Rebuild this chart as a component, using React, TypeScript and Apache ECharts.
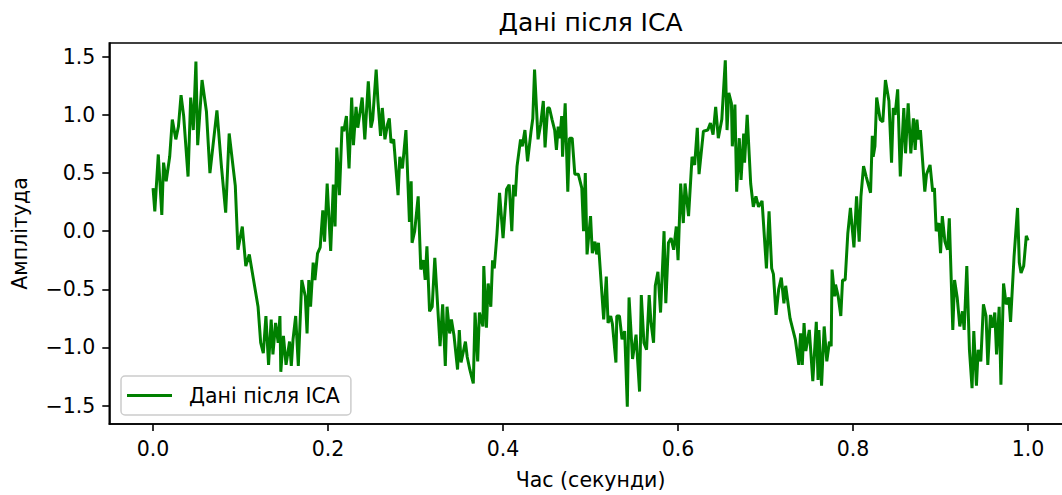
import React, { useEffect, useRef } from "react";
import * as echarts from "echarts";

const titleText = "Дані після ICA";
const seriesName = "Дані після ICA";
const xAxisLabel = "Час (секунди)";
const yAxisLabel = "Амплітуда";

const xTicks = [0, 0.2, 0.4, 0.6, 0.8, 1.0];
const yTicks = [-1.5, -1.0, -0.5, 0.0, 0.5, 1.0, 1.5];

const times = [
  0.000, 0.002, 0.006, 0.010, 0.012, 0.015, 0.019, 0.022, 0.026, 0.029,
  0.032, 0.035, 0.040, 0.043, 0.046, 0.049, 0.051, 0.056, 0.061, 0.065,
  0.073, 0.078, 0.083, 0.087, 0.094, 0.097, 0.102, 0.106, 0.110, 0.118,
  0.120, 0.123, 0.126, 0.129, 0.132, 0.135, 0.137, 0.140, 0.143, 0.145,
  0.146, 0.149, 0.152, 0.156, 0.158, 0.160, 0.163, 0.166, 0.170, 0.174,
  0.176, 0.178, 0.180, 0.183, 0.185, 0.188, 0.191, 0.194, 0.196, 0.199,
  0.203, 0.206, 0.208, 0.210, 0.213, 0.216, 0.218, 0.221, 0.224, 0.227,
  0.229, 0.232, 0.234, 0.239, 0.242, 0.246, 0.249, 0.251, 0.255, 0.257,
  0.260, 0.262, 0.265, 0.268, 0.270, 0.272, 0.275, 0.280, 0.282, 0.285,
  0.289, 0.293, 0.295, 0.296, 0.299, 0.303, 0.306, 0.309, 0.311, 0.313,
  0.316, 0.319, 0.322, 0.328, 0.331, 0.334, 0.336, 0.339, 0.341, 0.344,
  0.348, 0.350, 0.352, 0.357, 0.359, 0.362, 0.366, 0.368, 0.371, 0.373,
  0.377, 0.378, 0.381, 0.383, 0.386, 0.388, 0.390, 0.393, 0.396, 0.400,
  0.404, 0.407, 0.410, 0.412, 0.414, 0.416, 0.420, 0.422, 0.425, 0.428,
  0.432, 0.434, 0.436, 0.440, 0.443, 0.446, 0.448, 0.451, 0.453, 0.456,
  0.459, 0.461, 0.463, 0.465, 0.467, 0.468, 0.471, 0.474, 0.476, 0.479,
  0.482, 0.486, 0.490, 0.492, 0.494, 0.496, 0.500, 0.502, 0.505, 0.507,
  0.509, 0.515, 0.518, 0.520, 0.523, 0.525, 0.529, 0.530, 0.533, 0.536,
  0.539, 0.542, 0.544, 0.548, 0.552, 0.556, 0.558, 0.561, 0.564, 0.567,
  0.569, 0.572, 0.574, 0.577, 0.580, 0.584, 0.586, 0.589, 0.592, 0.595,
  0.598, 0.600, 0.603, 0.606, 0.608, 0.612, 0.616, 0.619, 0.622, 0.624,
  0.629, 0.634, 0.637, 0.640, 0.643, 0.646, 0.650, 0.654, 0.656, 0.658,
  0.661, 0.662, 0.665, 0.667, 0.670, 0.672, 0.675, 0.676, 0.679, 0.683,
  0.686, 0.689, 0.692, 0.696, 0.701, 0.704, 0.707, 0.709, 0.712, 0.715,
  0.718, 0.721, 0.723, 0.728, 0.734, 0.738, 0.740, 0.742, 0.744, 0.746,
  0.750, 0.754, 0.758, 0.760, 0.761, 0.764, 0.767, 0.770, 0.773, 0.775,
  0.776, 0.779, 0.780, 0.783, 0.786, 0.788, 0.791, 0.794, 0.797, 0.801,
  0.804, 0.807, 0.809, 0.812, 0.815, 0.820, 0.822, 0.823, 0.825, 0.827,
  0.831, 0.834, 0.837, 0.841, 0.844, 0.846, 0.848, 0.851, 0.854, 0.858,
  0.860, 0.863, 0.866, 0.869, 0.871, 0.873, 0.875, 0.877, 0.882, 0.884,
  0.888, 0.891, 0.893, 0.895, 0.898, 0.900, 0.902, 0.905, 0.908, 0.910,
  0.914, 0.916, 0.919, 0.922, 0.925, 0.927, 0.930, 0.933, 0.936, 0.938,
  0.941, 0.943, 0.946, 0.949, 0.952, 0.954, 0.957, 0.959, 0.962, 0.964,
  0.967, 0.969, 0.972, 0.975, 0.978, 0.980, 0.984, 0.988, 0.990, 0.992,
  0.995, 0.998, 1.000,
];

const amplitudes = [
  0.37, 0.17, 0.66, 0.14, 0.59, 0.43, 0.64, 0.96, 0.79, 0.90,
  1.17, 0.99, 0.47, 1.15, 0.87, 1.46, 0.74, 1.30, 1.03, 0.50,
  1.04, 0.57, 0.16, 0.84, 0.39, -0.16, 0.04, -0.30, -0.20, -0.56,
  -0.65, -0.96, -1.05, -0.73, -1.15, -0.76, -1.06, -0.79, -0.96, -0.73,
  -1.21, -0.90, -1.15, -0.95, -1.16, -0.93, -0.73, -1.16, -0.42, -0.56,
  -0.88, -0.42, -0.65, -0.27, -0.42, -0.19, -0.14, 0.18, -0.09, 0.41,
  -0.17, 0.40, 0.04, 0.72, 0.31, 0.90, 0.86, 0.99, 0.54, 1.15,
  0.74, 1.07, 0.89, 1.15, 0.79, 1.29, 0.89, 0.96, 1.39, 1.12,
  0.82, 1.06, 0.79, 0.92, 0.97, 0.76, 0.79, 0.31, 0.64, 0.54,
  0.87, 0.08, 0.43, -0.10, 0.00, 0.30, -0.33, -0.25, -0.42, -0.13,
  -0.69, -0.65, -0.23, -0.99, -0.63, -1.16, -0.65, -0.88, -0.76, -0.90,
  -1.19, -0.85, -1.13, -0.95, -1.08, -1.19, -1.31, -0.70, -1.12, -0.70,
  -0.82, -0.30, -0.83, -0.45, -0.65, -0.25, -0.32, -0.03, 0.33, -0.06,
  0.36, 0.40, 0.00, 0.40, 0.30, 0.56, 0.79, 0.73, 0.87, 0.60,
  0.86, 0.97, 1.39, 0.79, 0.92, 1.12, 0.72, 1.06, 1.06, 0.96,
  0.87, 0.70, 0.90, 0.80, 0.99, 0.64, 1.10, 0.34, 0.80, 0.80,
  0.49, 0.49, 0.37, 0.00, 0.50, -0.20, 0.13, -0.19, -0.09, -0.20,
  -0.10, -0.76, -0.39, -0.79, -0.73, -0.80, -1.13, -0.73, -0.73, -0.93,
  -0.86, -1.51, -0.57, -1.10, -0.89, -1.38, -0.55, -0.96, -1.02, -0.55,
  -0.78, -0.96, -0.47, -0.35, -0.70, 0.00, -0.62, -0.10, -0.06, -0.16,
  0.04, -0.25, 0.41, 0.07, 0.41, 0.13, 0.64, 0.57, 0.89, 0.49,
  0.86, 0.87, 0.93, 0.83, 1.07, 0.80, 0.96, 1.47, 0.87, 1.19,
  1.10, 0.73, 1.09, 0.34, 0.80, 0.44, 0.84, 0.59, 1.00, 0.41,
  0.21, 0.30, 0.21, 0.26, -0.32, 0.17, -0.32, -0.37, -0.72, -0.50,
  -0.40, -0.62, -0.47, -0.75, -0.93, -1.15, -0.88, -1.15, -0.79, -1.03,
  -0.85, -1.29, -0.78, -1.28, -0.85, -1.33, -0.82, -1.12, -0.95, -0.99,
  -0.33, -0.56, -0.46, -0.56, -0.73, -0.42, -0.42, -0.02, 0.20, -0.14,
  0.30, -0.09, 0.30, 0.56, 0.47, 0.33, 0.82, 0.64, 0.73, 1.15,
  0.96, 0.94, 1.30, 1.12, 0.59, 1.06, 1.00, 1.22, 0.47, 1.06,
  0.67, 1.10, 0.67, 0.97, 0.70, 0.96, 0.79, 0.87, 0.34, 0.49,
  0.57, 0.34, 0.37, 0.00, 0.07, -0.19, 0.13, -0.09, -0.16, 0.11,
  -0.85, -0.42, -0.57, -0.82, -0.69, -0.85, -0.30, -1.02, -1.35, -0.86,
  -1.33, -1.02, -1.12, -0.63, -0.73, -1.15, -0.72, -0.83, -0.70, -1.06,
  -0.65, -1.32, -0.45, -0.63, -0.57, -0.78, -0.22, 0.20, -0.27, -0.36,
  -0.30, -0.04, -0.08,
];

const FONT = "DejaVu Sans";
const fmt = (v: number) => {
  const s = Math.abs(v).toFixed(1);
  return v < -1e-9 ? "\u2212" + s : s;
};

// legend handle: a 3px-thick horizontal bar inside a 45x20 invisible frame
const LEGEND_LINE_ICON = "path://M0,0 M0,8.5 L45,8.5 L45,11.5 L0,11.5 Z M45,20";

export default function App() {
  const ref = useRef<HTMLDivElement>(null);

  useEffect(() => {
    document.documentElement.style.overflow = "hidden";
    document.body.style.overflow = "hidden";
    const chart = echarts.init(ref.current!, null, { renderer: "svg" });

    const data = times.map((t, i) => [t, amplitudes[i]]);
    const yMinData = Math.min(...amplitudes);
    const yMaxData = Math.max(...amplitudes);
    const yPad = 0.05 * (yMaxData - yMinData);

    const gridLeft = 109.3;
    const gridTop = 43;
    const gridHeight = 381;
    const gridWidth = 962.5;

    chart.setOption({
      animation: false,
      backgroundColor: "#ffffff",
      textStyle: { fontFamily: FONT },
      grid: {
        left: gridLeft,
        top: gridTop,
        width: gridWidth,
        height: gridHeight,
        show: true,
        borderColor: "#000",
        borderWidth: 1.6,
        backgroundColor: "transparent",
      },
      graphic: [
        {
          type: "text",
          x: gridLeft + gridWidth / 2,
          y: 22,
          style: {
            text: titleText,
            fontFamily: FONT,
            fontSize: 25,
            fill: "#000",
            textAlign: "center",
            textVerticalAlign: "middle",
          },
        },
      ],
      legend: {
        data: [{ name: seriesName, icon: LEGEND_LINE_ICON }],
        left: 121,
        top: 376,
        orient: "vertical",
        padding: [9, 11, 9, 6],
        itemWidth: 45,
        itemHeight: 20,
        backgroundColor: "rgba(255,255,255,0.8)",
        borderColor: "#cccccc",
        borderWidth: 1.5,
        borderRadius: 4,
        itemStyle: { color: "#008000", borderWidth: 0 },
        textStyle: {
          fontFamily: FONT,
          fontSize: 20.5,
          color: "#000",
          padding: [0, 0, 0, 12],
        },
      },
      xAxis: {
        type: "value",
        min: -0.05,
        max: 1.05,
        name: xAxisLabel,
        nameLocation: "middle",
        nameGap: 45,
        nameTextStyle: { fontFamily: FONT, fontSize: 20.5, color: "#000", verticalAlign: "top" },
        splitLine: { show: false },
        axisLine: { show: true, onZero: false, lineStyle: { color: "#000", width: 1.6 } },
        axisTick: { show: true, length: 7, customValues: xTicks, lineStyle: { color: "#000", width: 1.6 } },
        axisLabel: {
          customValues: xTicks,
          formatter: (v: number) => fmt(v),
          fontFamily: FONT,
          fontSize: 20.5,
          color: "#000",
          margin: 14,
        },
      },
      yAxis: {
        type: "value",
        min: yMinData - yPad,
        max: yMaxData + yPad,
        name: yAxisLabel,
        nameLocation: "middle",
        nameRotate: 90,
        nameGap: 79,
        nameTextStyle: { fontFamily: FONT, fontSize: 20.5, color: "#000" },
        splitLine: { show: false },
        axisLine: { show: true, onZero: false, lineStyle: { color: "#000", width: 1.6 } },
        axisTick: { show: true, length: 7, customValues: yTicks, lineStyle: { color: "#000", width: 1.6 } },
        axisLabel: {
          customValues: yTicks,
          formatter: (v: number) => fmt(v),
          fontFamily: FONT,
          fontSize: 20.5,
          color: "#000",
          margin: 14,
        },
      },
      series: [
        {
          name: seriesName,
          type: "line",
          data,
          symbol: "none",
          showSymbol: false,
          clip: true,
          color: "#008000",
          lineStyle: { color: "#008000", width: 3 },
          emphasis: { disabled: true },
        },
      ],
    });

    return () => {
      chart.dispose();
    };
  }, []);

  return (
    <div
      ref={ref}
      style={{ position: "fixed", left: 0, top: 0, width: 1080, height: 495 }}
    />
  );
}
